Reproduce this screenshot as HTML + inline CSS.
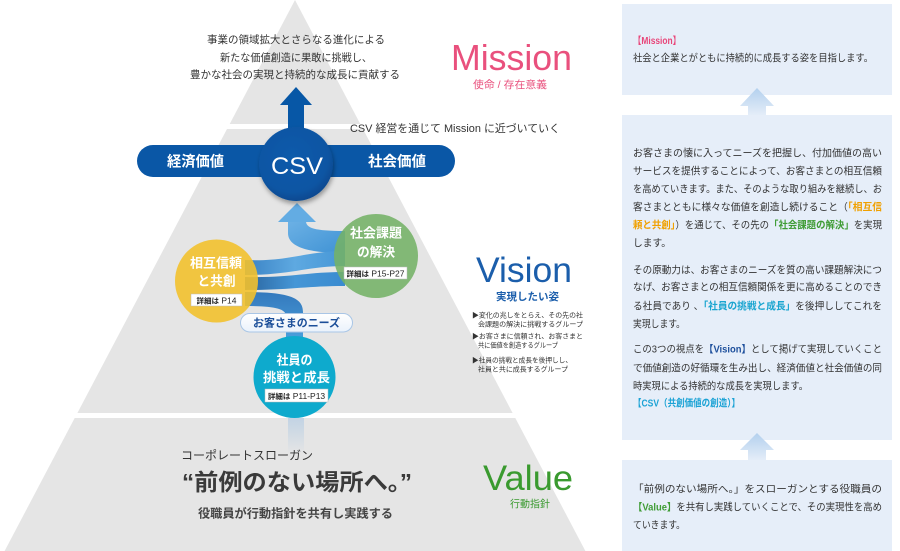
<!DOCTYPE html>
<html>
<head>
<meta charset="utf-8">
<style>
html,body{margin:0;padding:0;background:#fff;}
svg{display:block;}
</style>
</head>
<body>
<svg width="900" height="551" viewBox="0 0 900 551" xmlns="http://www.w3.org/2000/svg" font-family="'Liberation Sans','Noto Sans CJK JP',sans-serif">
<defs>
  <linearGradient id="gA" x1="0" y1="0" x2="1" y2="1">
    <stop offset="0" stop-color="#6cb1e5"/>
    <stop offset="1" stop-color="#3f92d4"/>
  </linearGradient>
  <linearGradient id="gB" x1="0" y1="0" x2="1" y2="0">
    <stop offset="0" stop-color="#3a82c4"/>
    <stop offset="0.5" stop-color="#5ea9e1"/>
    <stop offset="1" stop-color="#4596d6"/>
  </linearGradient>
  <linearGradient id="gC" x1="0" y1="0" x2="1" y2="0">
    <stop offset="0" stop-color="#2a649f"/>
    <stop offset="0.5" stop-color="#4596d6"/>
    <stop offset="1" stop-color="#3a8bd0"/>
  </linearGradient>
  <linearGradient id="gD" x1="0" y1="0" x2="0" y2="1">
    <stop offset="0" stop-color="#3479bd"/>
    <stop offset="1" stop-color="#4aa0dc"/>
  </linearGradient>
  <linearGradient id="gPale" x1="0" y1="0" x2="0" y2="1">
    <stop offset="0" stop-color="#c2d3e4"/>
    <stop offset="1" stop-color="#e5e5e5"/>
  </linearGradient>
  <linearGradient id="gArr" x1="0" y1="0" x2="0" y2="1">
    <stop offset="0" stop-color="#b3d0ee"/>
    <stop offset="1" stop-color="#e4edf8"/>
  </linearGradient>
  <linearGradient id="gPill" x1="0" y1="0" x2="0" y2="1">
    <stop offset="0" stop-color="#ffffff"/>
    <stop offset="1" stop-color="#eaf2fb"/>
  </linearGradient>
  <radialGradient id="gCsv" cx="0.45" cy="0.4" r="0.6">
    <stop offset="0" stop-color="#0c5bab"/>
    <stop offset="0.8" stop-color="#0a55a3"/>
    <stop offset="1" stop-color="#074a91"/>
  </radialGradient>
  <filter id="sh" x="-30%" y="-30%" width="160%" height="160%">
    <feDropShadow dx="1" dy="3" stdDeviation="2.5" flood-color="#000" flood-opacity="0.35"/>
  </filter>
</defs>

<!-- Pyramid -->
<polygon points="295,0 360.3,124 229.7,124" fill="#e5e5e5"/>
<polygon points="227,129 363,129 512.6,413 77.4,413" fill="#e5e5e5"/>
<polygon points="74.7,418 515.3,418 585.4,551 4.6,551" fill="#e5e5e5"/>

<!-- pale shaft below -->
<rect x="288" y="418" width="16" height="36" fill="url(#gPale)"/>

<!-- Top texts -->
<g fill="#333" font-size="10.5" text-anchor="middle">
  <text x="296" y="43" textLength="178" lengthAdjust="spacingAndGlyphs">事業の領域拡大とさらなる進化による</text>
  <text x="296" y="61" textLength="152" lengthAdjust="spacingAndGlyphs">新たな価値創造に果敢に挑戦し、</text>
  <text x="295" y="78" textLength="210" lengthAdjust="spacingAndGlyphs">豊かな社会の実現と持続的な成長に貢献する</text>
</g>

<!-- Mission -->
<text x="451" y="70" font-size="36" fill="#e9507d" textLength="121" lengthAdjust="spacingAndGlyphs">Mission</text>
<text x="473" y="88" font-size="10.5" fill="#e9507d" textLength="74" lengthAdjust="spacingAndGlyphs">使命 / 存在意義</text>

<text x="350" y="132" font-size="11" fill="#333" textLength="210" lengthAdjust="spacingAndGlyphs">CSV 経営を通じて Mission に近づいていく</text>

<!-- Blue up arrow -->
<rect x="288" y="103" width="16" height="30" fill="#0757a6"/>
<polygon points="296,87 312,105 280,105" fill="#0757a6"/>

<!-- CSV bar -->
<rect x="137" y="145" width="318" height="32" rx="16" fill="#0a57a6"/>
<text x="195.5" y="166.5" font-size="14.5" font-weight="bold" fill="#fff" text-anchor="middle" textLength="57" lengthAdjust="spacingAndGlyphs">経済価値</text>
<text x="397" y="166.5" font-size="14.5" font-weight="bold" fill="#fff" text-anchor="middle" textLength="58" lengthAdjust="spacingAndGlyphs">社会価値</text>

<!-- Ribbons -->
<path d="M288,221 L306,221 C306,228 314,231 345,231 L345,253 C305,253 288,246 288,233 Z" fill="url(#gA)"/>
<polygon points="297,203 316,222 278,222" fill="#63ace3"/>
<path d="M245,260 C290,262 305,251 345,251 L345,266 C308,266 292,275 245,275 Z" fill="url(#gB)"/>
<path d="M245,277 C292,278 305,272 345,272 L345,286 C305,286 292,290 245,290 Z" fill="url(#gC)"/>
<path d="M303,340 L303,312 C303,298 290,292 245,292 L245,306 C272,306 286,308 286,316 L286,340 Z" fill="url(#gD)"/>

<!-- CSV circle -->
<circle cx="296" cy="164" r="37" fill="url(#gCsv)" filter="url(#sh)"/>
<text x="297" y="174" font-size="24.5" fill="#fff" text-anchor="middle" textLength="52" lengthAdjust="spacingAndGlyphs">CSV</text>

<!-- Circles -->
<circle cx="216.5" cy="281" r="41.5" fill="#f2c12e" fill-opacity="0.9"/>
<circle cx="376" cy="256" r="42" fill="#74b267" fill-opacity="0.88"/>
<circle cx="294.5" cy="377" r="41" fill="#0eaacd"/>

<g font-weight="bold" fill="#fff" font-size="13" text-anchor="middle">
  <text x="216" y="267.5" textLength="52" lengthAdjust="spacingAndGlyphs">相互信頼</text>
  <text x="216.5" y="285.5" textLength="38" lengthAdjust="spacingAndGlyphs">と共創</text>
  <text x="376" y="237.5" textLength="52" lengthAdjust="spacingAndGlyphs">社会課題</text>
  <text x="376" y="256.5" textLength="38" lengthAdjust="spacingAndGlyphs">の解決</text>
  <text x="294.5" y="364.5" textLength="36" lengthAdjust="spacingAndGlyphs">社員の</text>
  <text x="296.5" y="382" textLength="67" lengthAdjust="spacingAndGlyphs">挑戦と成長</text>
</g>

<!-- labels -->
<rect x="191" y="294" width="51" height="12" fill="#fff" stroke="#bbb" stroke-width="0.5"/>
<text x="216.5" y="303.5" font-size="8.5" fill="#222" text-anchor="middle"><tspan font-size="7.5" font-weight="bold">詳細は</tspan> P14</text>
<rect x="344" y="267" width="63" height="12" fill="#fff" stroke="#bbb" stroke-width="0.5"/>
<text x="375.5" y="276.5" font-size="8.5" fill="#222" text-anchor="middle"><tspan font-size="7.5" font-weight="bold">詳細は</tspan> P15-P27</text>
<rect x="265" y="389" width="63" height="13" fill="#fff" stroke="#bbb" stroke-width="0.5"/>
<text x="296.5" y="399" font-size="8.5" fill="#222" text-anchor="middle"><tspan font-size="7.5" font-weight="bold">詳細は</tspan> P11-P13</text>

<!-- pill -->
<rect x="240.5" y="313.5" width="112" height="18.5" rx="9.25" fill="url(#gPill)" stroke="#a9c6e6" stroke-width="1"/>
<text x="296.5" y="326.5" font-size="11" font-weight="bold" fill="#1c4f99" text-anchor="middle" textLength="87" lengthAdjust="spacingAndGlyphs">お客さまのニーズ</text>

<!-- Vision -->
<text x="476" y="282" font-size="35.5" fill="#1b5eab" textLength="96" lengthAdjust="spacingAndGlyphs">Vision</text>
<text x="496" y="300" font-size="10.5" font-weight="bold" fill="#1b5eab" textLength="63" lengthAdjust="spacingAndGlyphs">実現したい姿</text>
<g font-size="7" fill="#333">
  <text x="472" y="317.5" textLength="111" lengthAdjust="spacingAndGlyphs">▶変化の兆しをとらえ、その先の社</text>
  <text x="478" y="326.5" textLength="105" lengthAdjust="spacingAndGlyphs">会課題の解決に挑戦するグループ</text>
  <text x="472" y="338.5" textLength="111" lengthAdjust="spacingAndGlyphs">▶お客さまに信頼され、お客さまと</text>
  <text x="478" y="347.5" textLength="80" lengthAdjust="spacingAndGlyphs">共に価値を創造するグループ</text>
  <text x="472" y="362.5" textLength="100" lengthAdjust="spacingAndGlyphs">▶社員の挑戦と成長を後押しし、</text>
  <text x="478" y="371.5" textLength="90" lengthAdjust="spacingAndGlyphs">社員と共に成長するグループ</text>
</g>

<!-- Value -->
<text x="483" y="490" font-size="35" fill="#3a9a2f" textLength="90" lengthAdjust="spacingAndGlyphs">Value</text>
<text x="510" y="507.5" font-size="10" fill="#3a9a2f" textLength="40" lengthAdjust="spacingAndGlyphs">行動指針</text>

<!-- Bottom texts -->
<text x="181" y="459.5" font-size="12" fill="#333" textLength="132" lengthAdjust="spacingAndGlyphs">コーポレートスローガン</text>
<text x="182" y="490" font-size="23" font-weight="bold" fill="#3a3a3a" textLength="230" lengthAdjust="spacingAndGlyphs">“前例のない場所へ。”</text>
<text x="198" y="517.5" font-size="12" font-weight="bold" fill="#444" textLength="195" lengthAdjust="spacingAndGlyphs">役職員が行動指針を共有し実践する</text>

<!-- Right panels -->
<rect x="622" y="4" width="270" height="91" fill="#e6eef9"/>
<rect x="622" y="115" width="270" height="325" fill="#e6eef9"/>
<rect x="622" y="460" width="270" height="91" fill="#e6eef9"/>
<polygon points="757,88 774,106 766,106 766,115 748,115 748,106 740,106" fill="url(#gArr)"/>
<polygon points="757,433 774,450 766,450 766,460 748,460 748,450 740,450" fill="url(#gArr)"/>

<g font-size="10" fill="#333">
  <text x="633" y="44" font-weight="bold" fill="#e8467a" textLength="48" lengthAdjust="spacingAndGlyphs">【Mission】</text>
  <text x="633" y="61.5" textLength="240" lengthAdjust="spacingAndGlyphs">社会と企業とがともに持続的に成長する姿を目指します。</text>

  <text x="633" y="156.5" textLength="249" lengthAdjust="spacingAndGlyphs">お客さまの懐に入ってニーズを把握し、付加価値の高い</text>
  <text x="633" y="174.5" textLength="249" lengthAdjust="spacingAndGlyphs">サービスを提供することによって、お客さまとの相互信頼</text>
  <text x="633" y="192.5" textLength="249" lengthAdjust="spacingAndGlyphs">を高めていきます。また、そのような取り組みを継続し、お</text>
  <text x="633" y="210.5" textLength="249" lengthAdjust="spacingAndGlyphs">客さまとともに様々な価値を創造し続けること（<tspan fill="#f0a000" font-weight="bold">「相互信</tspan></text>
  <text x="633" y="228.5" textLength="249" lengthAdjust="spacingAndGlyphs"><tspan fill="#f0a000" font-weight="bold">頼と共創」</tspan>）を通じて、その先の<tspan fill="#3f9c35" font-weight="bold">「社会課題の解決」</tspan>を実現</text>
  <text x="633" y="246.5" textLength="38" lengthAdjust="spacingAndGlyphs">します。</text>

  <text x="633" y="273.5" textLength="249" lengthAdjust="spacingAndGlyphs">その原動力は、お客さまのニーズを質の高い課題解決につ</text>
  <text x="633" y="290.5" textLength="249" lengthAdjust="spacingAndGlyphs">なげ、お客さまとの相互信頼関係を更に高めることのでき</text>
  <text x="633" y="309.5" textLength="249" lengthAdjust="spacingAndGlyphs">る社員であり 、<tspan fill="#1aa5d0" font-weight="bold">「社員の挑戦と成長」</tspan>を後押ししてこれを</text>
  <text x="633" y="327.5" textLength="52" lengthAdjust="spacingAndGlyphs">実現します。</text>

  <text x="633" y="352.5" textLength="249" lengthAdjust="spacingAndGlyphs">この3つの視点を<tspan fill="#1d4f9c" font-weight="bold">【Vision】</tspan>として掲げて実現していくこと</text>
  <text x="633" y="371.5" textLength="249" lengthAdjust="spacingAndGlyphs">で価値創造の好循環を生み出し、経済価値と社会価値の同</text>
  <text x="633" y="389.5" textLength="175" lengthAdjust="spacingAndGlyphs">時実現による持続的な成長を実現します。</text>
  <text x="633" y="406.5" font-weight="bold" fill="#1aa2d5" textLength="107" lengthAdjust="spacingAndGlyphs">【CSV（共創価値の創造）】</text>

  <text x="633" y="492.5" textLength="249" lengthAdjust="spacingAndGlyphs">「前例のない場所へ。」をスローガンとする役職員の</text>
  <text x="633" y="510.5" textLength="249" lengthAdjust="spacingAndGlyphs"><tspan fill="#3f9c35" font-weight="bold">【Value】</tspan>を共有し実践していくことで、その実現性を高め</text>
  <text x="633" y="528.5" textLength="52" lengthAdjust="spacingAndGlyphs">ていきます。</text>
</g>
</svg>
</body>
</html>
